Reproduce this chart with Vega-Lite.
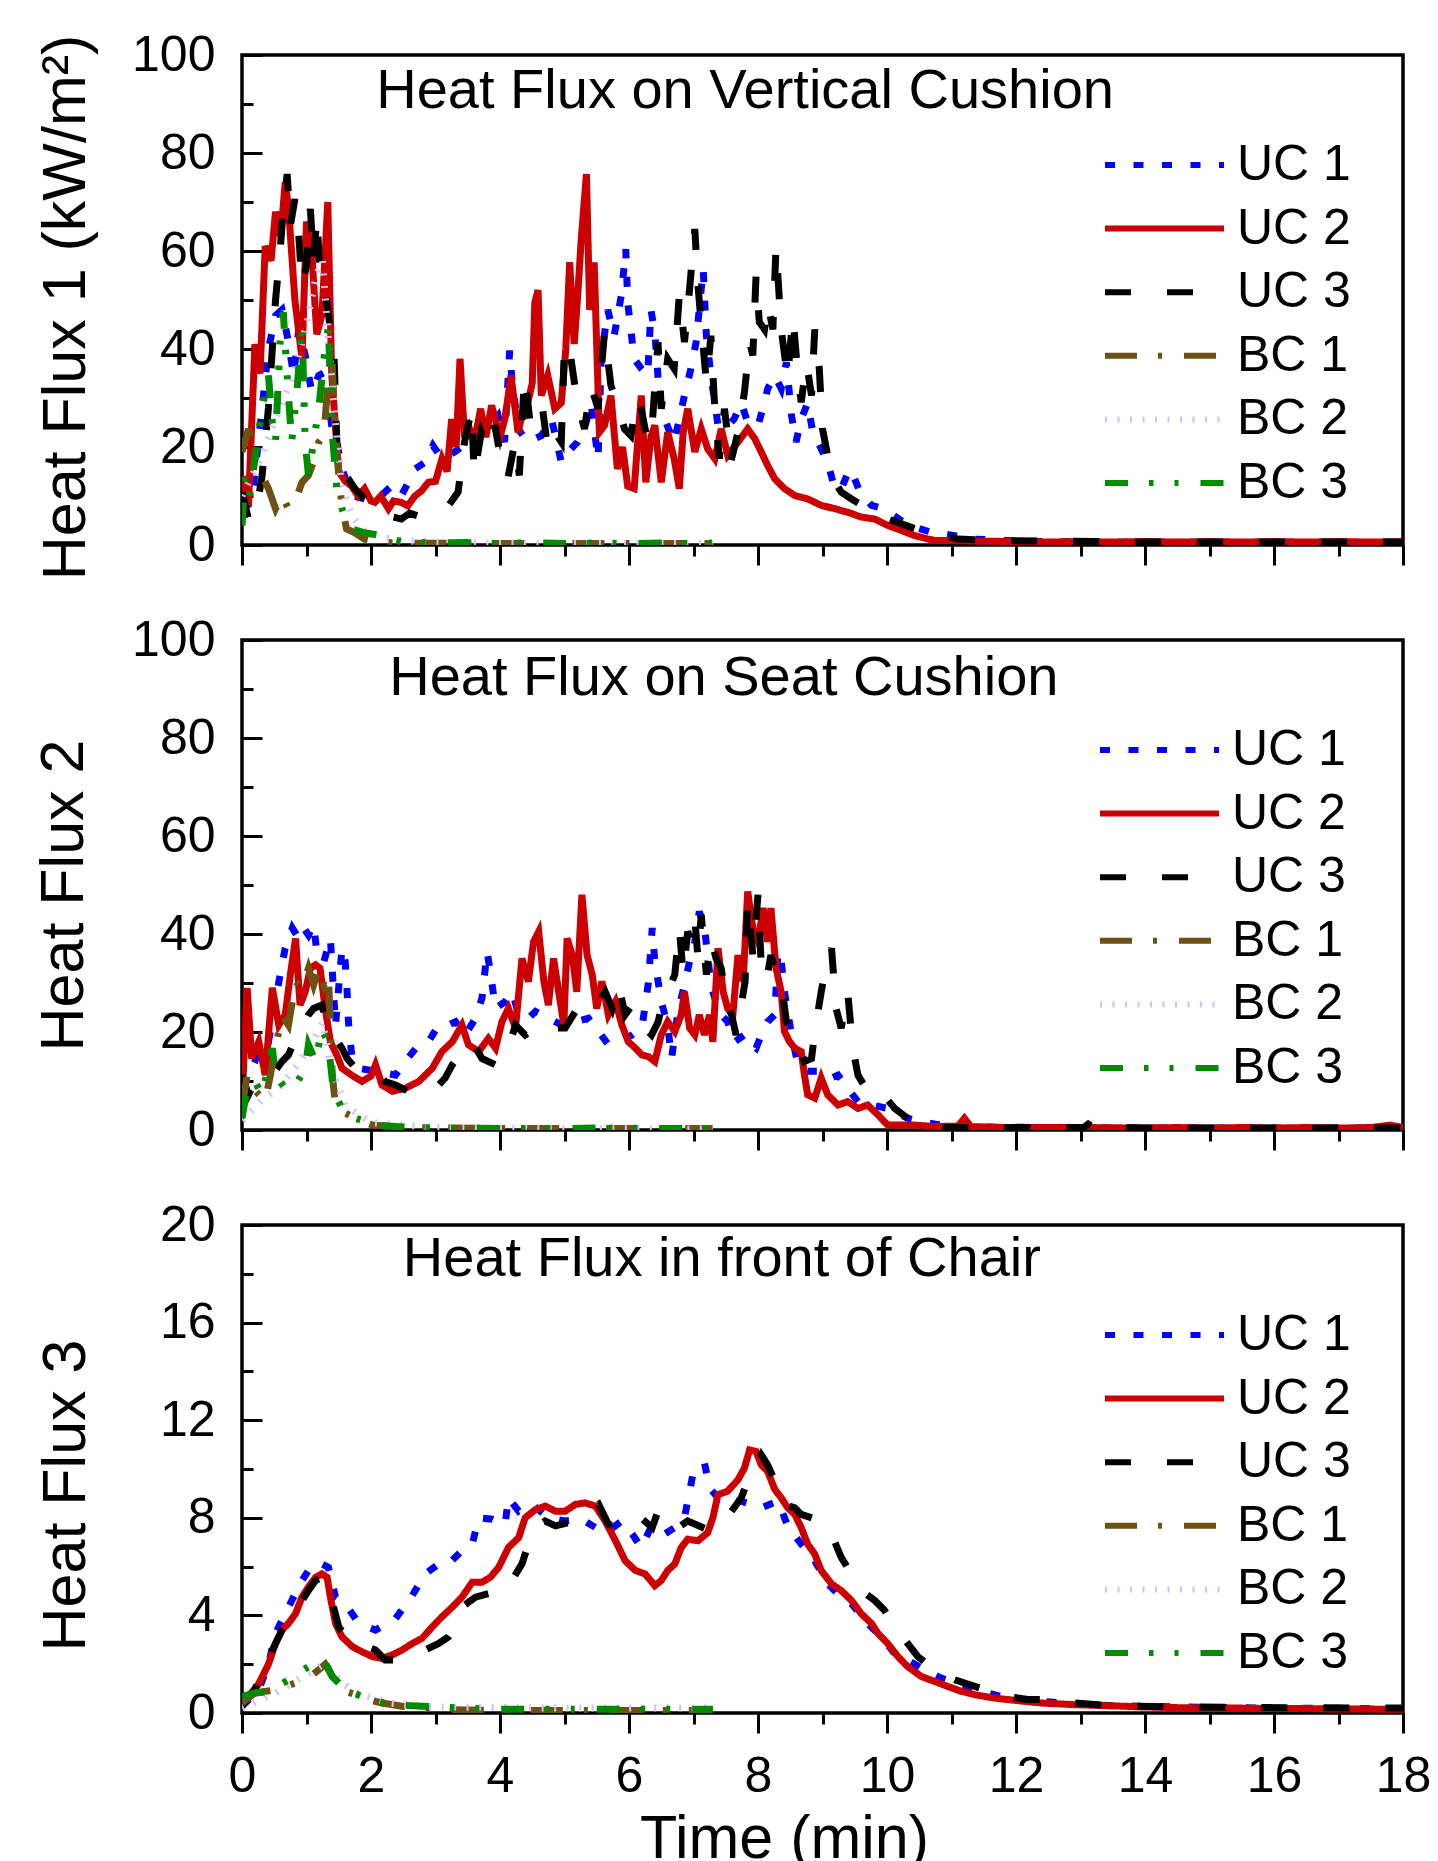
{
"$schema": "https://vega.github.io/schema/vega-lite/v6.json",
"background": "white",
"padding": {"left": 31, "top": 28, "right": 10, "bottom": 0},
"bounds": "flush",
"spacing": 95,
"config": {
  "font": "Liberation Sans",
  "view": {"stroke": "black", "strokeWidth": 3.5},
  "axis": {"grid": false, "domain": false, "labelFont": "Liberation Sans", "labelFontSize": 50, "labelColor": "black", "titleFont": "Liberation Sans", "titleFontSize": 61, "titleFontWeight": "normal", "titleColor": "black", "tickColor": "black", "tickWidth": 3, "labelFlush": false, "labelOverlap": false},
  "legend": {"orient": "none", "legendX": 860, "legendY": 82, "symbolType": "stroke", "symbolSize": 14161, "symbolStrokeWidth": 6, "labelFontSize": 50, "labelFont": "Liberation Sans", "labelColor": "black", "labelOffset": 10, "padding": 0, "rowPadding": 7.6, "clipHeight": 56, "title": null, "labelLimit": 300}
},
"resolve": {"scale": {"color": "independent", "strokeDash": "independent"}},
"datasets": {
"p1": [
{"s":"UC 1","t":0,"v":7.4},{"s":"UC 1","t":0.15,"v":8.7},{"s":"UC 1","t":0.31,"v":27.8},{"s":"UC 1","t":0.41,"v":40},{"s":"UC 1","t":0.52,"v":46.8},{"s":"UC 1","t":0.62,"v":48},{"s":"UC 1","t":0.72,"v":41.4},{"s":"UC 1","t":0.8,"v":34.6},{"s":"UC 1","t":0.88,"v":44},{"s":"UC 1","t":0.98,"v":38.7},{"s":"UC 1","t":1.08,"v":31.2},{"s":"UC 1","t":1.19,"v":34.6},{"s":"UC 1","t":1.29,"v":35.3},{"s":"UC 1","t":1.39,"v":24.4},{"s":"UC 1","t":1.47,"v":21},{"s":"UC 1","t":1.55,"v":15.5},{"s":"UC 1","t":1.7,"v":10.1},{"s":"UC 1","t":1.91,"v":9.4},{"s":"UC 1","t":2.16,"v":10.1},{"s":"UC 1","t":2.32,"v":12.1},{"s":"UC 1","t":2.47,"v":10.1},{"s":"UC 1","t":2.58,"v":12.8},{"s":"UC 1","t":2.68,"v":15.5},{"s":"UC 1","t":2.84,"v":16.9},{"s":"UC 1","t":2.96,"v":20.3},{"s":"UC 1","t":3.1,"v":17.6},{"s":"UC 1","t":3.3,"v":19},{"s":"UC 1","t":3.5,"v":21},{"s":"UC 1","t":3.71,"v":22.3},{"s":"UC 1","t":3.97,"v":26.4},{"s":"UC 1","t":4.07,"v":21},{"s":"UC 1","t":4.15,"v":39.7},{"s":"UC 1","t":4.18,"v":34.6},{"s":"UC 1","t":4.28,"v":23.7},{"s":"UC 1","t":4.43,"v":21},{"s":"UC 1","t":4.64,"v":22.3},{"s":"UC 1","t":4.8,"v":25.7},{"s":"UC 1","t":4.95,"v":16.9},{"s":"UC 1","t":5.1,"v":19.6},{"s":"UC 1","t":5.2,"v":21},{"s":"UC 1","t":5.31,"v":23.7},{"s":"UC 1","t":5.41,"v":29},{"s":"UC 1","t":5.52,"v":17.6},{"s":"UC 1","t":5.57,"v":38},{"s":"UC 1","t":5.67,"v":48},{"s":"UC 1","t":5.77,"v":42.7},{"s":"UC 1","t":5.88,"v":50.9},{"s":"UC 1","t":5.95,"v":60.4},{"s":"UC 1","t":5.98,"v":49.5},{"s":"UC 1","t":6.08,"v":38},{"s":"UC 1","t":6.19,"v":36},{"s":"UC 1","t":6.29,"v":34.6},{"s":"UC 1","t":6.34,"v":48},{"s":"UC 1","t":6.4,"v":43.4},{"s":"UC 1","t":6.47,"v":30.5},{"s":"UC 1","t":6.55,"v":25.7},{"s":"UC 1","t":6.7,"v":21},{"s":"UC 1","t":6.86,"v":30.5},{"s":"UC 1","t":6.96,"v":36},{"s":"UC 1","t":7.04,"v":41.4},{"s":"UC 1","t":7.15,"v":56.4},{"s":"UC 1","t":7.2,"v":42.7},{"s":"UC 1","t":7.27,"v":34.6},{"s":"UC 1","t":7.38,"v":24.4},{"s":"UC 1","t":7.48,"v":23.7},{"s":"UC 1","t":7.63,"v":25.7},{"s":"UC 1","t":7.74,"v":29},{"s":"UC 1","t":7.84,"v":25},{"s":"UC 1","t":8.0,"v":24.4},{"s":"UC 1","t":8.1,"v":29},{"s":"UC 1","t":8.15,"v":31.9},{"s":"UC 1","t":8.26,"v":34.6},{"s":"UC 1","t":8.36,"v":31.9},{"s":"UC 1","t":8.44,"v":37.3},{"s":"UC 1","t":8.52,"v":26.4},{"s":"UC 1","t":8.59,"v":21},{"s":"UC 1","t":8.67,"v":25.7},{"s":"UC 1","t":8.77,"v":29},{"s":"UC 1","t":8.85,"v":23},{"s":"UC 1","t":8.98,"v":19.6},{"s":"UC 1","t":9.08,"v":16.9},{"s":"UC 1","t":9.19,"v":11.5},{"s":"UC 1","t":9.29,"v":11.5},{"s":"UC 1","t":9.42,"v":15.5},{"s":"UC 1","t":9.5,"v":13.5},{"s":"UC 1","t":9.58,"v":10.8},{"s":"UC 1","t":9.76,"v":8.1},{"s":"UC 1","t":9.96,"v":7.4},{"s":"UC 1","t":10.22,"v":5},{"s":"UC 1","t":10.43,"v":3.6},{"s":"UC 1","t":10.69,"v":2.6},{"s":"UC 1","t":11.05,"v":1.9},{"s":"UC 1","t":11.36,"v":1.2},{"s":"UC 1","t":11.87,"v":0.9},{"s":"UC 1","t":12.5,"v":0.7},{"s":"UC 1","t":13.5,"v":0.6},{"s":"UC 1","t":15,"v":0.5},{"s":"UC 1","t":16.5,"v":0.5},{"s":"UC 1","t":18,"v":0.5},
{"s":"UC 2","t":0,"v":10},{"s":"UC 2","t":0.05,"v":14},{"s":"UC 2","t":0.1,"v":8},{"s":"UC 2","t":0.2,"v":41},{"s":"UC 2","t":0.28,"v":35},{"s":"UC 2","t":0.36,"v":61},{"s":"UC 2","t":0.45,"v":58},{"s":"UC 2","t":0.52,"v":68},{"s":"UC 2","t":0.6,"v":63},{"s":"UC 2","t":0.67,"v":74},{"s":"UC 2","t":0.72,"v":69},{"s":"UC 2","t":0.82,"v":50},{"s":"UC 2","t":0.93,"v":38},{"s":"UC 2","t":1.0,"v":66},{"s":"UC 2","t":1.08,"v":60},{"s":"UC 2","t":1.16,"v":43},{"s":"UC 2","t":1.24,"v":47},{"s":"UC 2","t":1.33,"v":70},{"s":"UC 2","t":1.39,"v":35},{"s":"UC 2","t":1.45,"v":24},{"s":"UC 2","t":1.5,"v":15},{"s":"UC 2","t":1.6,"v":13},{"s":"UC 2","t":1.7,"v":12},{"s":"UC 2","t":1.8,"v":10},{"s":"UC 2","t":1.9,"v":11.5},{"s":"UC 2","t":2.0,"v":9},{"s":"UC 2","t":2.06,"v":8.7},{"s":"UC 2","t":2.15,"v":10},{"s":"UC 2","t":2.27,"v":7.4},{"s":"UC 2","t":2.35,"v":9},{"s":"UC 2","t":2.47,"v":8.7},{"s":"UC 2","t":2.57,"v":8},{"s":"UC 2","t":2.68,"v":10},{"s":"UC 2","t":2.78,"v":11},{"s":"UC 2","t":2.89,"v":12.8},{"s":"UC 2","t":3.0,"v":13},{"s":"UC 2","t":3.1,"v":17.6},{"s":"UC 2","t":3.18,"v":15},{"s":"UC 2","t":3.25,"v":25.7},{"s":"UC 2","t":3.32,"v":20},{"s":"UC 2","t":3.38,"v":38},{"s":"UC 2","t":3.45,"v":22},{"s":"UC 2","t":3.52,"v":24},{"s":"UC 2","t":3.6,"v":21},{"s":"UC 2","t":3.7,"v":27.8},{"s":"UC 2","t":3.78,"v":22},{"s":"UC 2","t":3.87,"v":28.5},{"s":"UC 2","t":4.0,"v":22},{"s":"UC 2","t":4.08,"v":26},{"s":"UC 2","t":4.17,"v":34.6},{"s":"UC 2","t":4.28,"v":23},{"s":"UC 2","t":4.35,"v":27},{"s":"UC 2","t":4.43,"v":29},{"s":"UC 2","t":4.5,"v":33},{"s":"UC 2","t":4.54,"v":49.5},{"s":"UC 2","t":4.59,"v":52},{"s":"UC 2","t":4.64,"v":30.5},{"s":"UC 2","t":4.74,"v":34.6},{"s":"UC 2","t":4.85,"v":27.8},{"s":"UC 2","t":4.95,"v":29},{"s":"UC 2","t":5.02,"v":40},{"s":"UC 2","t":5.08,"v":57.7},{"s":"UC 2","t":5.15,"v":41},{"s":"UC 2","t":5.2,"v":50},{"s":"UC 2","t":5.26,"v":62.5},{"s":"UC 2","t":5.34,"v":75.7},{"s":"UC 2","t":5.39,"v":48},{"s":"UC 2","t":5.46,"v":57.7},{"s":"UC 2","t":5.54,"v":23},{"s":"UC 2","t":5.62,"v":24.4},{"s":"UC 2","t":5.72,"v":30.5},{"s":"UC 2","t":5.82,"v":15.5},{"s":"UC 2","t":5.9,"v":20},{"s":"UC 2","t":5.98,"v":12},{"s":"UC 2","t":6.08,"v":11.5},{"s":"UC 2","t":6.19,"v":30.5},{"s":"UC 2","t":6.26,"v":12.8},{"s":"UC 2","t":6.34,"v":22},{"s":"UC 2","t":6.4,"v":24.4},{"s":"UC 2","t":6.5,"v":12.8},{"s":"UC 2","t":6.6,"v":23},{"s":"UC 2","t":6.7,"v":17.6},{"s":"UC 2","t":6.78,"v":11.5},{"s":"UC 2","t":6.84,"v":23},{"s":"UC 2","t":6.91,"v":27.8},{"s":"UC 2","t":7.02,"v":19},{"s":"UC 2","t":7.12,"v":23.7},{"s":"UC 2","t":7.22,"v":19.6},{"s":"UC 2","t":7.33,"v":17.6},{"s":"UC 2","t":7.43,"v":23.7},{"s":"UC 2","t":7.53,"v":18.3},{"s":"UC 2","t":7.69,"v":21},{"s":"UC 2","t":7.84,"v":23.7},{"s":"UC 2","t":7.95,"v":21.7},{"s":"UC 2","t":8.05,"v":19},{"s":"UC 2","t":8.15,"v":16.2},{"s":"UC 2","t":8.26,"v":13.5},{"s":"UC 2","t":8.41,"v":11.5},{"s":"UC 2","t":8.57,"v":10.1},{"s":"UC 2","t":8.77,"v":9.4},{"s":"UC 2","t":8.98,"v":8.1},{"s":"UC 2","t":9.19,"v":7.4},{"s":"UC 2","t":9.39,"v":6.7},{"s":"UC 2","t":9.6,"v":5.7},{"s":"UC 2","t":9.81,"v":5.3},{"s":"UC 2","t":10.01,"v":4},{"s":"UC 2","t":10.22,"v":3},{"s":"UC 2","t":10.43,"v":1.9},{"s":"UC 2","t":10.74,"v":0.9},{"s":"UC 2","t":11.05,"v":0.9},{"s":"UC 2","t":11.36,"v":0.8},{"s":"UC 2","t":12,"v":0.7},{"s":"UC 2","t":12.5,"v":0.6},{"s":"UC 2","t":13,"v":0.7},{"s":"UC 2","t":13.5,"v":0.6},{"s":"UC 2","t":14,"v":0.7},{"s":"UC 2","t":14.5,"v":0.6},{"s":"UC 2","t":15,"v":0.7},{"s":"UC 2","t":15.5,"v":0.6},{"s":"UC 2","t":16,"v":0.7},{"s":"UC 2","t":16.5,"v":0.6},{"s":"UC 2","t":17,"v":0.7},{"s":"UC 2","t":17.5,"v":0.6},{"s":"UC 2","t":18,"v":0.7},
{"s":"UC 3","t":0,"v":10.8},{"s":"UC 3","t":0.1,"v":5.3},{"s":"UC 3","t":0.2,"v":5.3},{"s":"UC 3","t":0.31,"v":14},{"s":"UC 3","t":0.41,"v":28},{"s":"UC 3","t":0.52,"v":50},{"s":"UC 3","t":0.59,"v":60},{"s":"UC 3","t":0.64,"v":68.6},{"s":"UC 3","t":0.7,"v":75.7},{"s":"UC 3","t":0.75,"v":65.2},{"s":"UC 3","t":0.82,"v":70.6},{"s":"UC 3","t":0.88,"v":63.2},{"s":"UC 3","t":0.93,"v":53},{"s":"UC 3","t":1.0,"v":57},{"s":"UC 3","t":1.06,"v":68.6},{"s":"UC 3","t":1.11,"v":57.7},{"s":"UC 3","t":1.16,"v":67.2},{"s":"UC 3","t":1.21,"v":55},{"s":"UC 3","t":1.29,"v":52.3},{"s":"UC 3","t":1.37,"v":44},{"s":"UC 3","t":1.42,"v":41.4},{"s":"UC 3","t":1.47,"v":21},{"s":"UC 3","t":1.55,"v":14.2},{"s":"UC 3","t":1.65,"v":13.5},{"s":"UC 3","t":1.75,"v":11.5},{"s":"UC 3","t":1.86,"v":10},{"s":"UC 3","t":2.0,"v":7.4},{"s":"UC 3","t":2.1,"v":6.7},{"s":"UC 3","t":2.25,"v":6},{"s":"UC 3","t":2.47,"v":5.3},{"s":"UC 3","t":2.6,"v":6.5},{"s":"UC 3","t":2.78,"v":5.7},{"s":"UC 3","t":2.95,"v":6.5},{"s":"UC 3","t":3.1,"v":7},{"s":"UC 3","t":3.2,"v":8},{"s":"UC 3","t":3.35,"v":10.8},{"s":"UC 3","t":3.45,"v":21},{"s":"UC 3","t":3.56,"v":27.8},{"s":"UC 3","t":3.6,"v":14.2},{"s":"UC 3","t":3.71,"v":23},{"s":"UC 3","t":3.81,"v":19.6},{"s":"UC 3","t":3.92,"v":24.4},{"s":"UC 3","t":4.02,"v":17},{"s":"UC 3","t":4.12,"v":13.5},{"s":"UC 3","t":4.23,"v":21},{"s":"UC 3","t":4.3,"v":14.2},{"s":"UC 3","t":4.38,"v":34.6},{"s":"UC 3","t":4.48,"v":23.7},{"s":"UC 3","t":4.59,"v":26},{"s":"UC 3","t":4.66,"v":27.8},{"s":"UC 3","t":4.74,"v":19.6},{"s":"UC 3","t":4.85,"v":23},{"s":"UC 3","t":4.95,"v":21},{"s":"UC 3","t":5.0,"v":41.4},{"s":"UC 3","t":5.1,"v":38},{"s":"UC 3","t":5.2,"v":29},{"s":"UC 3","t":5.31,"v":23.7},{"s":"UC 3","t":5.41,"v":32.5},{"s":"UC 3","t":5.52,"v":27.8},{"s":"UC 3","t":5.62,"v":43.4},{"s":"UC 3","t":5.72,"v":32.5},{"s":"UC 3","t":5.82,"v":29},{"s":"UC 3","t":5.93,"v":23.7},{"s":"UC 3","t":6.03,"v":22.3},{"s":"UC 3","t":6.12,"v":30},{"s":"UC 3","t":6.19,"v":27.8},{"s":"UC 3","t":6.27,"v":22.3},{"s":"UC 3","t":6.34,"v":21},{"s":"UC 3","t":6.45,"v":41.4},{"s":"UC 3","t":6.5,"v":27.8},{"s":"UC 3","t":6.6,"v":38},{"s":"UC 3","t":6.7,"v":36},{"s":"UC 3","t":6.78,"v":51},{"s":"UC 3","t":6.86,"v":41.4},{"s":"UC 3","t":6.94,"v":52.3},{"s":"UC 3","t":7.02,"v":64.5},{"s":"UC 3","t":7.07,"v":53},{"s":"UC 3","t":7.12,"v":44.8},{"s":"UC 3","t":7.2,"v":33.2},{"s":"UC 3","t":7.27,"v":42.7},{"s":"UC 3","t":7.33,"v":27.8},{"s":"UC 3","t":7.4,"v":17.6},{"s":"UC 3","t":7.48,"v":27.8},{"s":"UC 3","t":7.58,"v":17},{"s":"UC 3","t":7.69,"v":23},{"s":"UC 3","t":7.79,"v":31.2},{"s":"UC 3","t":7.87,"v":41.4},{"s":"UC 3","t":7.92,"v":38.7},{"s":"UC 3","t":7.97,"v":55},{"s":"UC 3","t":8.02,"v":45.5},{"s":"UC 3","t":8.1,"v":44},{"s":"UC 3","t":8.15,"v":49.5},{"s":"UC 3","t":8.23,"v":44},{"s":"UC 3","t":8.28,"v":61},{"s":"UC 3","t":8.36,"v":44},{"s":"UC 3","t":8.46,"v":33.9},{"s":"UC 3","t":8.54,"v":46.8},{"s":"UC 3","t":8.62,"v":34.6},{"s":"UC 3","t":8.67,"v":29.1},{"s":"UC 3","t":8.75,"v":37.3},{"s":"UC 3","t":8.83,"v":30.5},{"s":"UC 3","t":8.88,"v":44},{"s":"UC 3","t":8.95,"v":36},{"s":"UC 3","t":9.0,"v":23.7},{"s":"UC 3","t":9.06,"v":19.6},{"s":"UC 3","t":9.13,"v":14.2},{"s":"UC 3","t":9.29,"v":10.8},{"s":"UC 3","t":9.45,"v":9.4},{"s":"UC 3","t":9.7,"v":7.4},{"s":"UC 3","t":10.01,"v":5.3},{"s":"UC 3","t":10.17,"v":4.6},{"s":"UC 3","t":10.4,"v":3.5},{"s":"UC 3","t":10.63,"v":2.6},{"s":"UC 3","t":11.1,"v":1.2},{"s":"UC 3","t":11.87,"v":0.9},{"s":"UC 3","t":12.55,"v":0.8},{"s":"UC 3","t":13.2,"v":0.7},{"s":"UC 3","t":14,"v":0.6},{"s":"UC 3","t":15,"v":0.6},{"s":"UC 3","t":16,"v":0.6},{"s":"UC 3","t":17,"v":0.6},{"s":"UC 3","t":18,"v":0.6},
{"s":"BC 1","t":0,"v":19},{"s":"BC 1","t":0.1,"v":23.7},{"s":"BC 1","t":0.2,"v":17.6},{"s":"BC 1","t":0.31,"v":14.2},{"s":"BC 1","t":0.41,"v":11.5},{"s":"BC 1","t":0.52,"v":7.4},{"s":"BC 1","t":0.62,"v":10.1},{"s":"BC 1","t":0.72,"v":7.4},{"s":"BC 1","t":0.82,"v":8.7},{"s":"BC 1","t":0.93,"v":12.8},{"s":"BC 1","t":1.03,"v":14.2},{"s":"BC 1","t":1.11,"v":17},{"s":"BC 1","t":1.19,"v":21},{"s":"BC 1","t":1.27,"v":22.3},{"s":"BC 1","t":1.34,"v":34.6},{"s":"BC 1","t":1.39,"v":39.3},{"s":"BC 1","t":1.44,"v":24.4},{"s":"BC 1","t":1.5,"v":14.2},{"s":"BC 1","t":1.55,"v":8},{"s":"BC 1","t":1.62,"v":3.3},{"s":"BC 1","t":1.75,"v":2.5},{"s":"BC 1","t":1.9,"v":1.2},{"s":"BC 1","t":2.1,"v":0.6},{"s":"BC 1","t":2.5,"v":0.4},{"s":"BC 1","t":3.5,"v":0.3},{"s":"BC 1","t":5,"v":0.3},{"s":"BC 1","t":6,"v":0.3},{"s":"BC 1","t":7.3,"v":0.3},
{"s":"BC 2","t":0,"v":10},{"s":"BC 2","t":0.3,"v":18},{"s":"BC 2","t":0.5,"v":25},{"s":"BC 2","t":0.8,"v":35},{"s":"BC 2","t":1.0,"v":45},{"s":"BC 2","t":1.15,"v":55},{"s":"BC 2","t":1.25,"v":58},{"s":"BC 2","t":1.35,"v":40},{"s":"BC 2","t":1.45,"v":25},{"s":"BC 2","t":1.55,"v":12},{"s":"BC 2","t":1.7,"v":6},{"s":"BC 2","t":1.9,"v":3},{"s":"BC 2","t":2.2,"v":1.5},{"s":"BC 2","t":2.6,"v":0.8},{"s":"BC 2","t":3.2,"v":0.5},{"s":"BC 2","t":4.5,"v":0.3},{"s":"BC 2","t":6,"v":0.3},{"s":"BC 2","t":7.3,"v":0.3},
{"s":"BC 3","t":0,"v":4},{"s":"BC 3","t":0.05,"v":14},{"s":"BC 3","t":0.12,"v":10},{"s":"BC 3","t":0.2,"v":17.6},{"s":"BC 3","t":0.31,"v":27.8},{"s":"BC 3","t":0.41,"v":34.6},{"s":"BC 3","t":0.47,"v":25},{"s":"BC 3","t":0.52,"v":21},{"s":"BC 3","t":0.59,"v":41.4},{"s":"BC 3","t":0.64,"v":47.5},{"s":"BC 3","t":0.7,"v":34.6},{"s":"BC 3","t":0.77,"v":21},{"s":"BC 3","t":0.85,"v":31.2},{"s":"BC 3","t":0.93,"v":44.8},{"s":"BC 3","t":0.98,"v":21},{"s":"BC 3","t":1.03,"v":14.2},{"s":"BC 3","t":1.11,"v":21},{"s":"BC 3","t":1.19,"v":27.8},{"s":"BC 3","t":1.27,"v":38},{"s":"BC 3","t":1.34,"v":44.8},{"s":"BC 3","t":1.39,"v":24.4},{"s":"BC 3","t":1.47,"v":11.5},{"s":"BC 3","t":1.55,"v":7.4},{"s":"BC 3","t":1.62,"v":5},{"s":"BC 3","t":1.7,"v":3.3},{"s":"BC 3","t":1.9,"v":2.5},{"s":"BC 3","t":2.16,"v":1.9},{"s":"BC 3","t":2.3,"v":1.2},{"s":"BC 3","t":2.5,"v":0.6},{"s":"BC 3","t":3.0,"v":0.4},{"s":"BC 3","t":3.5,"v":0.5},{"s":"BC 3","t":4.0,"v":0.3},{"s":"BC 3","t":4.5,"v":0.5},{"s":"BC 3","t":5.0,"v":0.3},{"s":"BC 3","t":5.5,"v":0.4},{"s":"BC 3","t":6.0,"v":0.3},{"s":"BC 3","t":6.5,"v":0.4},{"s":"BC 3","t":7.0,"v":0.3},{"s":"BC 3","t":7.3,"v":0.4}
],
"p2": [
{"s":"UC 1","t":0,"v":8.5},{"s":"UC 1","t":0.1,"v":11.2},{"s":"UC 1","t":0.2,"v":14},{"s":"UC 1","t":0.31,"v":18},{"s":"UC 1","t":0.41,"v":18},{"s":"UC 1","t":0.52,"v":26.2},{"s":"UC 1","t":0.59,"v":31.7},{"s":"UC 1","t":0.67,"v":37.1},{"s":"UC 1","t":0.78,"v":41.2},{"s":"UC 1","t":0.88,"v":39.1},{"s":"UC 1","t":0.96,"v":41.2},{"s":"UC 1","t":1.03,"v":39.8},{"s":"UC 1","t":1.11,"v":41.9},{"s":"UC 1","t":1.16,"v":36.4},{"s":"UC 1","t":1.27,"v":34.4},{"s":"UC 1","t":1.37,"v":39.1},{"s":"UC 1","t":1.45,"v":21.4},{"s":"UC 1","t":1.55,"v":37.1},{"s":"UC 1","t":1.6,"v":34.4},{"s":"UC 1","t":1.63,"v":28.2},{"s":"UC 1","t":1.65,"v":22.1},{"s":"UC 1","t":1.7,"v":15.3},{"s":"UC 1","t":1.81,"v":12.6},{"s":"UC 1","t":2.07,"v":12},{"s":"UC 1","t":2.38,"v":11.2},{"s":"UC 1","t":2.53,"v":14},{"s":"UC 1","t":2.74,"v":17.4},{"s":"UC 1","t":2.89,"v":18},{"s":"UC 1","t":3.05,"v":21.4},{"s":"UC 1","t":3.2,"v":21.4},{"s":"UC 1","t":3.31,"v":22.1},{"s":"UC 1","t":3.46,"v":19.4},{"s":"UC 1","t":3.62,"v":22.8},{"s":"UC 1","t":3.72,"v":26.9},{"s":"UC 1","t":3.8,"v":36.4},{"s":"UC 1","t":3.85,"v":32.3},{"s":"UC 1","t":3.93,"v":24.8},{"s":"UC 1","t":4.08,"v":26.2},{"s":"UC 1","t":4.19,"v":28.2},{"s":"UC 1","t":4.29,"v":23.5},{"s":"UC 1","t":4.44,"v":22.8},{"s":"UC 1","t":4.55,"v":24.2},{"s":"UC 1","t":4.75,"v":22.8},{"s":"UC 1","t":4.96,"v":21.4},{"s":"UC 1","t":5.17,"v":22.1},{"s":"UC 1","t":5.37,"v":22.8},{"s":"UC 1","t":5.53,"v":20.1},{"s":"UC 1","t":5.68,"v":17.4},{"s":"UC 1","t":5.84,"v":18},{"s":"UC 1","t":6.05,"v":19.4},{"s":"UC 1","t":6.2,"v":20.8},{"s":"UC 1","t":6.3,"v":30},{"s":"UC 1","t":6.36,"v":41.2},{"s":"UC 1","t":6.4,"v":34.4},{"s":"UC 1","t":6.46,"v":29.6},{"s":"UC 1","t":6.5,"v":26.2},{"s":"UC 1","t":6.6,"v":21.4},{"s":"UC 1","t":6.66,"v":14.6},{"s":"UC 1","t":6.76,"v":24.2},{"s":"UC 1","t":6.86,"v":29.6},{"s":"UC 1","t":6.94,"v":34.4},{"s":"UC 1","t":7.02,"v":38.4},{"s":"UC 1","t":7.09,"v":44.6},{"s":"UC 1","t":7.17,"v":41.2},{"s":"UC 1","t":7.22,"v":35.7},{"s":"UC 1","t":7.27,"v":29.6},{"s":"UC 1","t":7.33,"v":26.9},{"s":"UC 1","t":7.43,"v":23.5},{"s":"UC 1","t":7.53,"v":22.1},{"s":"UC 1","t":7.64,"v":18},{"s":"UC 1","t":7.79,"v":19.4},{"s":"UC 1","t":7.9,"v":17.4},{"s":"UC 1","t":7.97,"v":16.7},{"s":"UC 1","t":8.05,"v":19.4},{"s":"UC 1","t":8.15,"v":22.1},{"s":"UC 1","t":8.26,"v":23.5},{"s":"UC 1","t":8.31,"v":36.4},{"s":"UC 1","t":8.36,"v":34.4},{"s":"UC 1","t":8.41,"v":28.2},{"s":"UC 1","t":8.52,"v":19.4},{"s":"UC 1","t":8.62,"v":13.3},{"s":"UC 1","t":8.77,"v":12},{"s":"UC 1","t":8.98,"v":12},{"s":"UC 1","t":9.14,"v":10.6},{"s":"UC 1","t":9.24,"v":11.2},{"s":"UC 1","t":9.39,"v":8.5},{"s":"UC 1","t":9.55,"v":5.8},{"s":"UC 1","t":9.76,"v":5.1},{"s":"UC 1","t":10.01,"v":4.4},{"s":"UC 1","t":10.32,"v":2.4},{"s":"UC 1","t":10.53,"v":1.7},{"s":"UC 1","t":10.84,"v":1.0},{"s":"UC 1","t":11.5,"v":0.6},{"s":"UC 1","t":12.5,"v":0.5},{"s":"UC 1","t":14,"v":0.4},{"s":"UC 1","t":16,"v":0.4},{"s":"UC 1","t":18,"v":0.4},
{"s":"UC 2","t":0,"v":5.8},{"s":"UC 2","t":0.08,"v":29},{"s":"UC 2","t":0.15,"v":14.6},{"s":"UC 2","t":0.26,"v":18},{"s":"UC 2","t":0.36,"v":11.2},{"s":"UC 2","t":0.47,"v":29},{"s":"UC 2","t":0.57,"v":21.4},{"s":"UC 2","t":0.67,"v":23.5},{"s":"UC 2","t":0.75,"v":31.7},{"s":"UC 2","t":0.83,"v":39.1},{"s":"UC 2","t":0.9,"v":25.5},{"s":"UC 2","t":0.98,"v":28.2},{"s":"UC 2","t":1.06,"v":33},{"s":"UC 2","t":1.14,"v":33.7},{"s":"UC 2","t":1.21,"v":33},{"s":"UC 2","t":1.29,"v":24.8},{"s":"UC 2","t":1.37,"v":18},{"s":"UC 2","t":1.47,"v":15.3},{"s":"UC 2","t":1.55,"v":12.6},{"s":"UC 2","t":1.7,"v":11.2},{"s":"UC 2","t":1.86,"v":9.9},{"s":"UC 2","t":2.0,"v":11},{"s":"UC 2","t":2.07,"v":13.3},{"s":"UC 2","t":2.17,"v":9.2},{"s":"UC 2","t":2.33,"v":7.9},{"s":"UC 2","t":2.53,"v":8.5},{"s":"UC 2","t":2.74,"v":9.9},{"s":"UC 2","t":2.95,"v":12.6},{"s":"UC 2","t":3.1,"v":16},{"s":"UC 2","t":3.26,"v":18},{"s":"UC 2","t":3.41,"v":21.4},{"s":"UC 2","t":3.51,"v":17.4},{"s":"UC 2","t":3.67,"v":16},{"s":"UC 2","t":3.82,"v":18.7},{"s":"UC 2","t":3.93,"v":16.7},{"s":"UC 2","t":4.03,"v":22.1},{"s":"UC 2","t":4.13,"v":24.8},{"s":"UC 2","t":4.24,"v":20.8},{"s":"UC 2","t":4.34,"v":35},{"s":"UC 2","t":4.44,"v":30.3},{"s":"UC 2","t":4.52,"v":38.4},{"s":"UC 2","t":4.6,"v":40.5},{"s":"UC 2","t":4.68,"v":30.3},{"s":"UC 2","t":4.75,"v":25.5},{"s":"UC 2","t":4.83,"v":35},{"s":"UC 2","t":4.91,"v":28.2},{"s":"UC 2","t":4.99,"v":21.4},{"s":"UC 2","t":5.04,"v":39.1},{"s":"UC 2","t":5.12,"v":35.7},{"s":"UC 2","t":5.19,"v":28.2},{"s":"UC 2","t":5.27,"v":48},{"s":"UC 2","t":5.35,"v":35.7},{"s":"UC 2","t":5.43,"v":31.7},{"s":"UC 2","t":5.5,"v":24.8},{"s":"UC 2","t":5.58,"v":30.3},{"s":"UC 2","t":5.68,"v":23.5},{"s":"UC 2","t":5.79,"v":26.2},{"s":"UC 2","t":5.89,"v":21.4},{"s":"UC 2","t":5.99,"v":18},{"s":"UC 2","t":6.1,"v":16.7},{"s":"UC 2","t":6.2,"v":15.3},{"s":"UC 2","t":6.3,"v":15},{"s":"UC 2","t":6.4,"v":14},{"s":"UC 2","t":6.5,"v":19.4},{"s":"UC 2","t":6.6,"v":22.1},{"s":"UC 2","t":6.71,"v":20.1},{"s":"UC 2","t":6.81,"v":23.5},{"s":"UC 2","t":6.86,"v":28.2},{"s":"UC 2","t":6.94,"v":20.8},{"s":"UC 2","t":7.02,"v":19.4},{"s":"UC 2","t":7.09,"v":23.5},{"s":"UC 2","t":7.17,"v":19.4},{"s":"UC 2","t":7.25,"v":23.5},{"s":"UC 2","t":7.3,"v":18},{"s":"UC 2","t":7.38,"v":37.1},{"s":"UC 2","t":7.46,"v":28.2},{"s":"UC 2","t":7.53,"v":24.8},{"s":"UC 2","t":7.61,"v":23.5},{"s":"UC 2","t":7.69,"v":35.7},{"s":"UC 2","t":7.77,"v":30.3},{"s":"UC 2","t":7.84,"v":48.7},{"s":"UC 2","t":7.92,"v":41.2},{"s":"UC 2","t":8.0,"v":38.4},{"s":"UC 2","t":8.08,"v":45.3},{"s":"UC 2","t":8.15,"v":38.4},{"s":"UC 2","t":8.2,"v":45.3},{"s":"UC 2","t":8.28,"v":33},{"s":"UC 2","t":8.36,"v":28.2},{"s":"UC 2","t":8.41,"v":20.1},{"s":"UC 2","t":8.49,"v":18},{"s":"UC 2","t":8.57,"v":16.7},{"s":"UC 2","t":8.67,"v":16},{"s":"UC 2","t":8.72,"v":11.2},{"s":"UC 2","t":8.77,"v":7.2},{"s":"UC 2","t":8.88,"v":6.5},{"s":"UC 2","t":8.98,"v":10.6},{"s":"UC 2","t":9.08,"v":7.2},{"s":"UC 2","t":9.24,"v":5.1},{"s":"UC 2","t":9.39,"v":5.8},{"s":"UC 2","t":9.55,"v":4.4},{"s":"UC 2","t":9.7,"v":5.1},{"s":"UC 2","t":9.86,"v":3.1},{"s":"UC 2","t":10.01,"v":1.0},{"s":"UC 2","t":10.22,"v":1.0},{"s":"UC 2","t":10.43,"v":1.0},{"s":"UC 2","t":10.74,"v":0.7},{"s":"UC 2","t":11.1,"v":0.8},{"s":"UC 2","t":11.2,"v":2.4},{"s":"UC 2","t":11.3,"v":0.7},{"s":"UC 2","t":11.87,"v":0.5},{"s":"UC 2","t":12.5,"v":0.5},{"s":"UC 2","t":13.12,"v":0.5},{"s":"UC 2","t":13.9,"v":0.4},{"s":"UC 2","t":14.5,"v":0.5},{"s":"UC 2","t":15,"v":0.4},{"s":"UC 2","t":15.5,"v":0.5},{"s":"UC 2","t":16,"v":0.4},{"s":"UC 2","t":16.5,"v":0.5},{"s":"UC 2","t":17,"v":0.4},{"s":"UC 2","t":17.5,"v":0.5},{"s":"UC 2","t":17.8,"v":1.0},{"s":"UC 2","t":18,"v":0.5},
{"s":"UC 3","t":0,"v":11.2},{"s":"UC 3","t":0.1,"v":7.2},{"s":"UC 3","t":0.2,"v":9.9},{"s":"UC 3","t":0.31,"v":9.9},{"s":"UC 3","t":0.47,"v":11.2},{"s":"UC 3","t":0.62,"v":14},{"s":"UC 3","t":0.72,"v":15.3},{"s":"UC 3","t":0.83,"v":18.7},{"s":"UC 3","t":0.98,"v":22.1},{"s":"UC 3","t":1.03,"v":23.5},{"s":"UC 3","t":1.11,"v":24.8},{"s":"UC 3","t":1.24,"v":25.5},{"s":"UC 3","t":1.34,"v":20.1},{"s":"UC 3","t":1.45,"v":18.7},{"s":"UC 3","t":1.55,"v":16.7},{"s":"UC 3","t":1.63,"v":14.6},{"s":"UC 3","t":1.76,"v":12.6},{"s":"UC 3","t":1.91,"v":12},{"s":"UC 3","t":2.07,"v":12},{"s":"UC 3","t":2.22,"v":9.9},{"s":"UC 3","t":2.38,"v":9.2},{"s":"UC 3","t":2.58,"v":7.9},{"s":"UC 3","t":2.84,"v":9.2},{"s":"UC 3","t":3.0,"v":8.5},{"s":"UC 3","t":3.15,"v":10.6},{"s":"UC 3","t":3.26,"v":13.3},{"s":"UC 3","t":3.41,"v":16},{"s":"UC 3","t":3.57,"v":18},{"s":"UC 3","t":3.72,"v":14.6},{"s":"UC 3","t":3.93,"v":13.3},{"s":"UC 3","t":4.13,"v":16.7},{"s":"UC 3","t":4.24,"v":21.4},{"s":"UC 3","t":4.39,"v":19.4},{"s":"UC 3","t":4.55,"v":20.8},{"s":"UC 3","t":4.7,"v":22.1},{"s":"UC 3","t":4.86,"v":20.8},{"s":"UC 3","t":5.01,"v":20.8},{"s":"UC 3","t":5.17,"v":24.2},{"s":"UC 3","t":5.32,"v":23.5},{"s":"UC 3","t":5.48,"v":24.8},{"s":"UC 3","t":5.63,"v":28.2},{"s":"UC 3","t":5.74,"v":24.8},{"s":"UC 3","t":5.84,"v":29.6},{"s":"UC 3","t":5.94,"v":23.5},{"s":"UC 3","t":6.05,"v":25.5},{"s":"UC 3","t":6.15,"v":22.8},{"s":"UC 3","t":6.25,"v":20.8},{"s":"UC 3","t":6.35,"v":19.4},{"s":"UC 3","t":6.45,"v":22},{"s":"UC 3","t":6.5,"v":24.8},{"s":"UC 3","t":6.6,"v":28.2},{"s":"UC 3","t":6.71,"v":31.7},{"s":"UC 3","t":6.78,"v":41.2},{"s":"UC 3","t":6.84,"v":31.7},{"s":"UC 3","t":6.91,"v":40.5},{"s":"UC 3","t":6.97,"v":38.4},{"s":"UC 3","t":7.02,"v":43.2},{"s":"UC 3","t":7.07,"v":35},{"s":"UC 3","t":7.12,"v":43.9},{"s":"UC 3","t":7.2,"v":31.7},{"s":"UC 3","t":7.27,"v":39.1},{"s":"UC 3","t":7.35,"v":35},{"s":"UC 3","t":7.43,"v":33},{"s":"UC 3","t":7.51,"v":26.2},{"s":"UC 3","t":7.59,"v":23.5},{"s":"UC 3","t":7.66,"v":19.4},{"s":"UC 3","t":7.74,"v":25.5},{"s":"UC 3","t":7.8,"v":30.3},{"s":"UC 3","t":7.84,"v":46.6},{"s":"UC 3","t":7.92,"v":35.7},{"s":"UC 3","t":8.0,"v":48},{"s":"UC 3","t":8.05,"v":33.7},{"s":"UC 3","t":8.13,"v":30.3},{"s":"UC 3","t":8.2,"v":35.7},{"s":"UC 3","t":8.28,"v":31.7},{"s":"UC 3","t":8.36,"v":30.3},{"s":"UC 3","t":8.44,"v":22.1},{"s":"UC 3","t":8.52,"v":20.1},{"s":"UC 3","t":8.62,"v":18},{"s":"UC 3","t":8.72,"v":14},{"s":"UC 3","t":8.83,"v":14.6},{"s":"UC 3","t":8.88,"v":20.1},{"s":"UC 3","t":8.98,"v":28.2},{"s":"UC 3","t":9.03,"v":31.7},{"s":"UC 3","t":9.14,"v":37.1},{"s":"UC 3","t":9.21,"v":24.8},{"s":"UC 3","t":9.29,"v":20.8},{"s":"UC 3","t":9.39,"v":28.2},{"s":"UC 3","t":9.47,"v":16.7},{"s":"UC 3","t":9.55,"v":11.2},{"s":"UC 3","t":9.7,"v":7.9},{"s":"UC 3","t":9.86,"v":8.5},{"s":"UC 3","t":10.12,"v":4.4},{"s":"UC 3","t":10.32,"v":2.4},{"s":"UC 3","t":10.69,"v":1.0},{"s":"UC 3","t":10.89,"v":0.5},{"s":"UC 3","t":11.62,"v":0.5},{"s":"UC 3","t":12.55,"v":0.5},{"s":"UC 3","t":13.05,"v":0.5},{"s":"UC 3","t":13.12,"v":1.2},{"s":"UC 3","t":13.2,"v":0.5},{"s":"UC 3","t":14,"v":0.4},{"s":"UC 3","t":16,"v":0.4},{"s":"UC 3","t":18,"v":0.4},
{"s":"BC 1","t":0,"v":4.4},{"s":"BC 1","t":0.08,"v":11.2},{"s":"BC 1","t":0.15,"v":9},{"s":"BC 1","t":0.26,"v":7.2},{"s":"BC 1","t":0.36,"v":5.8},{"s":"BC 1","t":0.52,"v":16.7},{"s":"BC 1","t":0.62,"v":23.5},{"s":"BC 1","t":0.72,"v":21.4},{"s":"BC 1","t":0.83,"v":30.3},{"s":"BC 1","t":0.93,"v":29},{"s":"BC 1","t":1.03,"v":33},{"s":"BC 1","t":1.11,"v":29.6},{"s":"BC 1","t":1.19,"v":33},{"s":"BC 1","t":1.27,"v":29.6},{"s":"BC 1","t":1.34,"v":31.7},{"s":"BC 1","t":1.4,"v":11.2},{"s":"BC 1","t":1.45,"v":5.1},{"s":"BC 1","t":1.55,"v":3.8},{"s":"BC 1","t":1.76,"v":2.4},{"s":"BC 1","t":2.02,"v":1.0},{"s":"BC 1","t":2.5,"v":0.5},{"s":"BC 1","t":4,"v":0.3},{"s":"BC 1","t":7.3,"v":0.3},
{"s":"BC 2","t":0,"v":2},{"s":"BC 2","t":0.3,"v":6},{"s":"BC 2","t":0.6,"v":9},{"s":"BC 2","t":0.9,"v":14},{"s":"BC 2","t":1.1,"v":18},{"s":"BC 2","t":1.25,"v":22},{"s":"BC 2","t":1.4,"v":12},{"s":"BC 2","t":1.6,"v":5},{"s":"BC 2","t":2.0,"v":1.5},{"s":"BC 2","t":3.0,"v":0.5},{"s":"BC 2","t":5.0,"v":0.3},{"s":"BC 2","t":7.3,"v":0.2},
{"s":"BC 3","t":0,"v":2.4},{"s":"BC 3","t":0.08,"v":8.5},{"s":"BC 3","t":0.2,"v":9.9},{"s":"BC 3","t":0.31,"v":7.2},{"s":"BC 3","t":0.47,"v":16.7},{"s":"BC 3","t":0.52,"v":11.2},{"s":"BC 3","t":0.67,"v":8.5},{"s":"BC 3","t":0.8,"v":8.5},{"s":"BC 3","t":0.98,"v":12.6},{"s":"BC 3","t":1.03,"v":17.4},{"s":"BC 3","t":1.14,"v":14},{"s":"BC 3","t":1.24,"v":20.8},{"s":"BC 3","t":1.34,"v":17.4},{"s":"BC 3","t":1.42,"v":7.9},{"s":"BC 3","t":1.55,"v":4.4},{"s":"BC 3","t":1.76,"v":2.4},{"s":"BC 3","t":2.07,"v":1.0},{"s":"BC 3","t":2.38,"v":0.7},{"s":"BC 3","t":3,"v":0.4},{"s":"BC 3","t":4,"v":0.3},{"s":"BC 3","t":5,"v":0.3},{"s":"BC 3","t":5.55,"v":0.4},{"s":"BC 3","t":5.63,"v":2.0},{"s":"BC 3","t":5.7,"v":0.4},{"s":"BC 3","t":6.5,"v":0.3},{"s":"BC 3","t":7.3,"v":0.3}
],
"p3": [
{"s":"UC 1","t":0,"v":0.28},{"s":"UC 1","t":0.26,"v":0.95},{"s":"UC 1","t":0.41,"v":2.0},{"s":"UC 1","t":0.52,"v":3.26},{"s":"UC 1","t":0.72,"v":4.34},{"s":"UC 1","t":0.93,"v":5.43},{"s":"UC 1","t":1.03,"v":5.84},{"s":"UC 1","t":1.19,"v":6.17},{"s":"UC 1","t":1.34,"v":5.97},{"s":"UC 1","t":1.45,"v":4.75},{"s":"UC 1","t":1.6,"v":4.48},{"s":"UC 1","t":1.81,"v":3.67},{"s":"UC 1","t":2.07,"v":3.4},{"s":"UC 1","t":2.38,"v":3.87},{"s":"UC 1","t":2.64,"v":4.82},{"s":"UC 1","t":2.84,"v":5.7},{"s":"UC 1","t":3.05,"v":6.11},{"s":"UC 1","t":3.2,"v":6.11},{"s":"UC 1","t":3.41,"v":6.65},{"s":"UC 1","t":3.57,"v":6.92},{"s":"UC 1","t":3.67,"v":8.0},{"s":"UC 1","t":3.88,"v":7.94},{"s":"UC 1","t":4.08,"v":7.73},{"s":"UC 1","t":4.13,"v":8.82},{"s":"UC 1","t":4.29,"v":8.27},{"s":"UC 1","t":4.5,"v":8.55},{"s":"UC 1","t":4.75,"v":8.0},{"s":"UC 1","t":5.01,"v":7.87},{"s":"UC 1","t":5.27,"v":7.94},{"s":"UC 1","t":5.48,"v":7.6},{"s":"UC 1","t":5.68,"v":7.46},{"s":"UC 1","t":5.89,"v":7.87},{"s":"UC 1","t":6.05,"v":7.33},{"s":"UC 1","t":6.19,"v":6.78},{"s":"UC 1","t":6.35,"v":7.67},{"s":"UC 1","t":6.55,"v":7.33},{"s":"UC 1","t":6.71,"v":7.6},{"s":"UC 1","t":6.86,"v":8.0},{"s":"UC 1","t":6.91,"v":8.68},{"s":"UC 1","t":6.99,"v":9.77},{"s":"UC 1","t":7.17,"v":10.24},{"s":"UC 1","t":7.25,"v":9.23},{"s":"UC 1","t":7.38,"v":8.82},{"s":"UC 1","t":7.53,"v":8.68},{"s":"UC 1","t":7.74,"v":8.68},{"s":"UC 1","t":7.9,"v":8.55},{"s":"UC 1","t":8.05,"v":8.41},{"s":"UC 1","t":8.31,"v":8.68},{"s":"UC 1","t":8.46,"v":7.67},{"s":"UC 1","t":8.67,"v":6.92},{"s":"UC 1","t":8.88,"v":6.24},{"s":"UC 1","t":9.08,"v":5.29},{"s":"UC 1","t":9.29,"v":4.75},{"s":"UC 1","t":9.45,"v":4.48},{"s":"UC 1","t":9.7,"v":3.67},{"s":"UC 1","t":9.91,"v":3.12},{"s":"UC 1","t":10.12,"v":2.44},{"s":"UC 1","t":10.32,"v":2.17},{"s":"UC 1","t":10.58,"v":1.77},{"s":"UC 1","t":10.84,"v":1.43},{"s":"UC 1","t":11.15,"v":1.16},{"s":"UC 1","t":11.46,"v":0.89},{"s":"UC 1","t":11.87,"v":0.61},{"s":"UC 1","t":12.39,"v":0.48},{"s":"UC 1","t":12.91,"v":0.38},{"s":"UC 1","t":13.5,"v":0.3},{"s":"UC 1","t":14.5,"v":0.25},{"s":"UC 1","t":16,"v":0.2},{"s":"UC 1","t":18,"v":0.18},
{"s":"UC 2","t":0,"v":0.3},{"s":"UC 2","t":0.1,"v":0.68},{"s":"UC 2","t":0.26,"v":1.2},{"s":"UC 2","t":0.41,"v":2.0},{"s":"UC 2","t":0.52,"v":2.85},{"s":"UC 2","t":0.62,"v":3.4},{"s":"UC 2","t":0.72,"v":3.67},{"s":"UC 2","t":0.83,"v":4.07},{"s":"UC 2","t":0.93,"v":4.75},{"s":"UC 2","t":1.03,"v":5.16},{"s":"UC 2","t":1.14,"v":5.56},{"s":"UC 2","t":1.24,"v":5.7},{"s":"UC 2","t":1.32,"v":5.56},{"s":"UC 2","t":1.37,"v":4.75},{"s":"UC 2","t":1.45,"v":3.67},{"s":"UC 2","t":1.55,"v":3.12},{"s":"UC 2","t":1.71,"v":2.72},{"s":"UC 2","t":1.86,"v":2.51},{"s":"UC 2","t":2.02,"v":2.31},{"s":"UC 2","t":2.17,"v":2.24},{"s":"UC 2","t":2.33,"v":2.38},{"s":"UC 2","t":2.48,"v":2.58},{"s":"UC 2","t":2.64,"v":2.85},{"s":"UC 2","t":2.79,"v":3.06},{"s":"UC 2","t":2.95,"v":3.53},{"s":"UC 2","t":3.1,"v":3.94},{"s":"UC 2","t":3.26,"v":4.34},{"s":"UC 2","t":3.41,"v":4.75},{"s":"UC 2","t":3.57,"v":5.36},{"s":"UC 2","t":3.72,"v":5.36},{"s":"UC 2","t":3.85,"v":5.56},{"s":"UC 2","t":3.98,"v":5.97},{"s":"UC 2","t":4.13,"v":6.78},{"s":"UC 2","t":4.29,"v":7.19},{"s":"UC 2","t":4.39,"v":8.0},{"s":"UC 2","t":4.55,"v":8.34},{"s":"UC 2","t":4.7,"v":8.48},{"s":"UC 2","t":4.86,"v":8.27},{"s":"UC 2","t":5.01,"v":8.27},{"s":"UC 2","t":5.17,"v":8.55},{"s":"UC 2","t":5.32,"v":8.61},{"s":"UC 2","t":5.48,"v":8.48},{"s":"UC 2","t":5.63,"v":7.87},{"s":"UC 2","t":5.79,"v":7.06},{"s":"UC 2","t":5.94,"v":6.24},{"s":"UC 2","t":6.1,"v":5.84},{"s":"UC 2","t":6.25,"v":5.7},{"s":"UC 2","t":6.4,"v":5.22},{"s":"UC 2","t":6.5,"v":5.43},{"s":"UC 2","t":6.6,"v":5.84},{"s":"UC 2","t":6.71,"v":6.11},{"s":"UC 2","t":6.81,"v":6.78},{"s":"UC 2","t":6.91,"v":7.12},{"s":"UC 2","t":7.07,"v":7.06},{"s":"UC 2","t":7.22,"v":7.39},{"s":"UC 2","t":7.3,"v":8.0},{"s":"UC 2","t":7.38,"v":8.95},{"s":"UC 2","t":7.53,"v":9.09},{"s":"UC 2","t":7.69,"v":9.56},{"s":"UC 2","t":7.79,"v":10.04},{"s":"UC 2","t":7.87,"v":10.78},{"s":"UC 2","t":7.97,"v":10.72},{"s":"UC 2","t":8.05,"v":10.17},{"s":"UC 2","t":8.15,"v":9.9},{"s":"UC 2","t":8.26,"v":9.16},{"s":"UC 2","t":8.36,"v":8.82},{"s":"UC 2","t":8.46,"v":8.41},{"s":"UC 2","t":8.57,"v":8.14},{"s":"UC 2","t":8.67,"v":7.6},{"s":"UC 2","t":8.77,"v":6.92},{"s":"UC 2","t":8.88,"v":6.51},{"s":"UC 2","t":8.98,"v":5.84},{"s":"UC 2","t":9.14,"v":5.29},{"s":"UC 2","t":9.29,"v":5.02},{"s":"UC 2","t":9.45,"v":4.61},{"s":"UC 2","t":9.6,"v":4.07},{"s":"UC 2","t":9.76,"v":3.67},{"s":"UC 2","t":9.86,"v":3.26},{"s":"UC 2","t":10.01,"v":2.85},{"s":"UC 2","t":10.17,"v":2.31},{"s":"UC 2","t":10.32,"v":1.9},{"s":"UC 2","t":10.53,"v":1.5},{"s":"UC 2","t":10.74,"v":1.29},{"s":"UC 2","t":10.94,"v":1.09},{"s":"UC 2","t":11.15,"v":0.89},{"s":"UC 2","t":11.36,"v":0.75},{"s":"UC 2","t":11.67,"v":0.61},{"s":"UC 2","t":11.98,"v":0.52},{"s":"UC 2","t":12.39,"v":0.41},{"s":"UC 2","t":12.91,"v":0.34},{"s":"UC 2","t":13.43,"v":0.3},{"s":"UC 2","t":13.94,"v":0.25},{"s":"UC 2","t":14.5,"v":0.22},{"s":"UC 2","t":15,"v":0.2},{"s":"UC 2","t":15.5,"v":0.2},{"s":"UC 2","t":16,"v":0.18},{"s":"UC 2","t":16.5,"v":0.18},{"s":"UC 2","t":17,"v":0.16},{"s":"UC 2","t":17.5,"v":0.16},{"s":"UC 2","t":18,"v":0.15},
{"s":"UC 3","t":0,"v":0.28},{"s":"UC 3","t":0.2,"v":0.95},{"s":"UC 3","t":0.36,"v":2.0},{"s":"UC 3","t":0.52,"v":2.85},{"s":"UC 3","t":0.62,"v":3.4},{"s":"UC 3","t":0.78,"v":3.94},{"s":"UC 3","t":0.93,"v":4.61},{"s":"UC 3","t":1.03,"v":5.02},{"s":"UC 3","t":1.14,"v":5.43},{"s":"UC 3","t":1.24,"v":5.56},{"s":"UC 3","t":1.34,"v":5.29},{"s":"UC 3","t":1.42,"v":4.34},{"s":"UC 3","t":1.5,"v":3.53},{"s":"UC 3","t":1.65,"v":2.99},{"s":"UC 3","t":1.86,"v":2.79},{"s":"UC 3","t":2.07,"v":2.58},{"s":"UC 3","t":2.22,"v":2.17},{"s":"UC 3","t":2.38,"v":2.17},{"s":"UC 3","t":2.64,"v":2.31},{"s":"UC 3","t":2.84,"v":2.58},{"s":"UC 3","t":3.05,"v":2.85},{"s":"UC 3","t":3.2,"v":3.12},{"s":"UC 3","t":3.31,"v":3.53},{"s":"UC 3","t":3.41,"v":4.34},{"s":"UC 3","t":3.62,"v":4.75},{"s":"UC 3","t":3.82,"v":4.89},{"s":"UC 3","t":4.03,"v":4.89},{"s":"UC 3","t":4.13,"v":5.2},{"s":"UC 3","t":4.34,"v":6.11},{"s":"UC 3","t":4.44,"v":6.92},{"s":"UC 3","t":4.55,"v":7.6},{"s":"UC 3","t":4.7,"v":7.87},{"s":"UC 3","t":4.86,"v":7.67},{"s":"UC 3","t":5.06,"v":7.8},{"s":"UC 3","t":5.22,"v":8.0},{"s":"UC 3","t":5.37,"v":8.27},{"s":"UC 3","t":5.53,"v":8.55},{"s":"UC 3","t":5.68,"v":7.73},{"s":"UC 3","t":5.84,"v":7.6},{"s":"UC 3","t":5.99,"v":7.87},{"s":"UC 3","t":6.15,"v":8.07},{"s":"UC 3","t":6.36,"v":7.6},{"s":"UC 3","t":6.45,"v":8.27},{"s":"UC 3","t":6.55,"v":7.73},{"s":"UC 3","t":6.76,"v":7.6},{"s":"UC 3","t":6.91,"v":7.87},{"s":"UC 3","t":7.27,"v":7.46},{"s":"UC 3","t":7.48,"v":7.87},{"s":"UC 3","t":7.74,"v":8.82},{"s":"UC 3","t":7.84,"v":9.5},{"s":"UC 3","t":8.05,"v":10.58},{"s":"UC 3","t":8.15,"v":10.17},{"s":"UC 3","t":8.26,"v":9.5},{"s":"UC 3","t":8.41,"v":8.55},{"s":"UC 3","t":8.57,"v":8.41},{"s":"UC 3","t":8.67,"v":8.14},{"s":"UC 3","t":8.98,"v":7.87},{"s":"UC 3","t":9.14,"v":7.33},{"s":"UC 3","t":9.29,"v":6.38},{"s":"UC 3","t":9.45,"v":5.7},{"s":"UC 3","t":9.6,"v":5.02},{"s":"UC 3","t":9.81,"v":4.61},{"s":"UC 3","t":9.96,"v":4.21},{"s":"UC 3","t":10.12,"v":3.53},{"s":"UC 3","t":10.32,"v":2.85},{"s":"UC 3","t":10.48,"v":2.31},{"s":"UC 3","t":10.74,"v":1.77},{"s":"UC 3","t":11.05,"v":1.36},{"s":"UC 3","t":11.36,"v":1.09},{"s":"UC 3","t":11.67,"v":0.82},{"s":"UC 3","t":11.87,"v":0.68},{"s":"UC 3","t":12.18,"v":0.55},{"s":"UC 3","t":12.65,"v":0.55},{"s":"UC 3","t":12.91,"v":0.41},{"s":"UC 3","t":13.5,"v":0.3},{"s":"UC 3","t":14.5,"v":0.25},{"s":"UC 3","t":16,"v":0.22},{"s":"UC 3","t":18,"v":0.2},
{"s":"BC 1","t":0,"v":0.41},{"s":"BC 1","t":0.2,"v":0.82},{"s":"BC 1","t":0.52,"v":0.95},{"s":"BC 1","t":0.83,"v":1.23},{"s":"BC 1","t":1.03,"v":1.43},{"s":"BC 1","t":1.19,"v":1.77},{"s":"BC 1","t":1.29,"v":2.0},{"s":"BC 1","t":1.4,"v":1.5},{"s":"BC 1","t":1.55,"v":0.95},{"s":"BC 1","t":1.76,"v":0.75},{"s":"BC 1","t":1.96,"v":0.55},{"s":"BC 1","t":2.17,"v":0.41},{"s":"BC 1","t":2.48,"v":0.28},{"s":"BC 1","t":3,"v":0.15},{"s":"BC 1","t":4,"v":0.1},{"s":"BC 1","t":5,"v":0.1},{"s":"BC 1","t":6,"v":0.1},{"s":"BC 1","t":7.3,"v":0.1},
{"s":"BC 2","t":0,"v":0.2},{"s":"BC 2","t":0.52,"v":0.82},{"s":"BC 2","t":1.03,"v":1.63},{"s":"BC 2","t":1.29,"v":2.04},{"s":"BC 2","t":1.55,"v":1.23},{"s":"BC 2","t":1.8,"v":0.8},{"s":"BC 2","t":2.3,"v":0.4},{"s":"BC 2","t":3,"v":0.25},{"s":"BC 2","t":5,"v":0.2},{"s":"BC 2","t":7.3,"v":0.2},
{"s":"BC 3","t":0,"v":0.68},{"s":"BC 3","t":0.2,"v":0.82},{"s":"BC 3","t":0.41,"v":0.88},{"s":"BC 3","t":0.72,"v":1.36},{"s":"BC 3","t":1.03,"v":1.9},{"s":"BC 3","t":1.14,"v":2.04},{"s":"BC 3","t":1.27,"v":2.17},{"s":"BC 3","t":1.4,"v":1.5},{"s":"BC 3","t":1.6,"v":0.95},{"s":"BC 3","t":1.86,"v":0.68},{"s":"BC 3","t":2.07,"v":0.48},{"s":"BC 3","t":2.33,"v":0.34},{"s":"BC 3","t":2.79,"v":0.28},{"s":"BC 3","t":3.31,"v":0.21},{"s":"BC 3","t":4,"v":0.15},{"s":"BC 3","t":5,"v":0.15},{"s":"BC 3","t":6,"v":0.15},{"s":"BC 3","t":7.3,"v":0.15}
]
},
"vconcat": [
{
 "width": 1161, "height": 490,
 "data": {"name": "p1"},
 "resolve": {"axis": {"x": "independent", "y": "independent"}},
 "layer": [
  {
   "mark": {"type": "line", "strokeWidth": 7, "clip": true},
   "encoding": {
    "x": {"field": "t", "type": "quantitative", "scale": {"domain": [0, 18], "nice": false}, "axis": {"orient": "bottom", "values": [0,2,4,6,8,10,12,14,16,18], "tickSize": 20, "labels": false, "title": null}},
    "y": {"field": "v", "type": "quantitative", "scale": {"domain": [0, 100], "nice": false}, "axis": {"orient": "left", "values": [0,20,40,60,80,100], "tickSize": -20, "labelPadding": 47, "title": "Heat Flux 1 (kW/m²)", "titlePadding": 34, "titleY": 252}},
    "color": {"field": "s", "type": "nominal", "scale": {"domain": ["UC 1","UC 2","UC 3","BC 1","BC 2","BC 3"], "range": ["#0000ff","#cc0000","#000000","#6e5214","#d4bfff","#008c00"]}},
    "strokeDash": {"field": "s", "type": "nominal", "scale": {"domain": ["UC 1","UC 2","UC 3","BC 1","BC 2","BC 3"], "range": [[10,18.5],[1,0],[26,36],[32,21,4,22],[2,10.5],[23,21,4.5,21,4,22]]}}
   }
  },
  {
   "data": {"values": [{"label": "Heat Flux on Vertical Cushion"}]},
   "mark": {"type": "text", "fontSize": 56, "font": "Liberation Sans", "align": "center", "baseline": "alphabetic", "color": "black"},
   "encoding": {
    "x": {"datum": 7.8, "type": "quantitative", "axis": {"orient": "bottom", "values": [1,3,5,7,9,11,13,15,17], "tickSize": 11, "labels": false, "title": null}},
    "y": {"datum": 89.1, "type": "quantitative", "axis": {"orient": "left", "values": [10,30,50,70,90], "tickSize": -11, "labels": false, "title": null}},
    "text": {"field": "label"}
   }
  }
 ]
},
{
 "width": 1161, "height": 490,
 "data": {"name": "p2"},
 "resolve": {"axis": {"x": "independent", "y": "independent"}},
 "layer": [
  {
   "mark": {"type": "line", "strokeWidth": 7, "clip": true},
   "encoding": {
    "x": {"field": "t", "type": "quantitative", "scale": {"domain": [0, 18], "nice": false}, "axis": {"orient": "bottom", "values": [0,2,4,6,8,10,12,14,16,18], "tickSize": 20, "labels": false, "title": null}},
    "y": {"field": "v", "type": "quantitative", "scale": {"domain": [0, 100], "nice": false}, "axis": {"orient": "left", "values": [0,20,40,60,80,100], "tickSize": -20, "labelPadding": 47, "title": "Heat Flux 2", "titlePadding": 36, "titleY": 255}},
    "color": {"field": "s", "type": "nominal", "scale": {"domain": ["UC 1","UC 2","UC 3","BC 1","BC 2","BC 3"], "range": ["#0000ff","#cc0000","#000000","#6e5214","#d4bfff","#008c00"]}, "legend": {"legendX": 855}},
    "strokeDash": {"field": "s", "type": "nominal", "scale": {"domain": ["UC 1","UC 2","UC 3","BC 1","BC 2","BC 3"], "range": [[10,18.5],[1,0],[26,36],[32,21,4,22],[2,10.5],[23,21,4.5,21,4,22]]}, "legend": {"legendX": 855}}
   }
  },
  {
   "data": {"values": [{"label": "Heat Flux on Seat Cushion"}]},
   "mark": {"type": "text", "fontSize": 56, "font": "Liberation Sans", "align": "center", "baseline": "alphabetic", "color": "black"},
   "encoding": {
    "x": {"datum": 7.47, "type": "quantitative", "axis": {"orient": "bottom", "values": [1,3,5,7,9,11,13,15,17], "tickSize": 11, "labels": false, "title": null}},
    "y": {"datum": 88.8, "type": "quantitative", "axis": {"orient": "left", "values": [10,30,50,70,90], "tickSize": -11, "labels": false, "title": null}},
    "text": {"field": "label"}
   }
  }
 ]
},
{
 "width": 1161, "height": 488,
 "data": {"name": "p3"},
 "resolve": {"axis": {"x": "independent", "y": "independent"}},
 "layer": [
  {
   "mark": {"type": "line", "strokeWidth": 7, "clip": true},
   "encoding": {
    "x": {"field": "t", "type": "quantitative", "scale": {"domain": [0, 18], "nice": false}, "axis": {"orient": "bottom", "values": [0,2,4,6,8,10,12,14,16,18], "tickSize": 20, "labelPadding": 18, "title": "Time (min)", "titlePadding": 8, "titleX": 542}},
    "y": {"field": "v", "type": "quantitative", "scale": {"domain": [0, 20], "nice": false}, "axis": {"orient": "left", "values": [0,4,8,12,16,20], "tickSize": -20, "labelPadding": 47, "title": "Heat Flux 3", "titlePadding": 62, "titleY": 270}},
    "color": {"field": "s", "type": "nominal", "scale": {"domain": ["UC 1","UC 2","UC 3","BC 1","BC 2","BC 3"], "range": ["#0000ff","#cc0000","#000000","#6e5214","#d4bfff","#008c00"]}},
    "strokeDash": {"field": "s", "type": "nominal", "scale": {"domain": ["UC 1","UC 2","UC 3","BC 1","BC 2","BC 3"], "range": [[10,18.5],[1,0],[26,36],[32,21,4,22],[2,10.5],[23,21,4.5,21,4,22]]}}
   }
  },
  {
   "data": {"values": [{"label": "Heat Flux in front of Chair"}]},
   "mark": {"type": "text", "fontSize": 56, "font": "Liberation Sans", "align": "center", "baseline": "alphabetic", "color": "black"},
   "encoding": {
    "x": {"datum": 7.44, "type": "quantitative", "axis": {"orient": "bottom", "values": [1,3,5,7,9,11,13,15,17], "tickSize": 11, "labels": false, "title": null}},
    "y": {"datum": 17.9, "type": "quantitative", "axis": {"orient": "left", "values": [2,6,10,14,18], "tickSize": -11, "labels": false, "title": null}},
    "text": {"field": "label"}
   }
  }
 ]
}
]
}
